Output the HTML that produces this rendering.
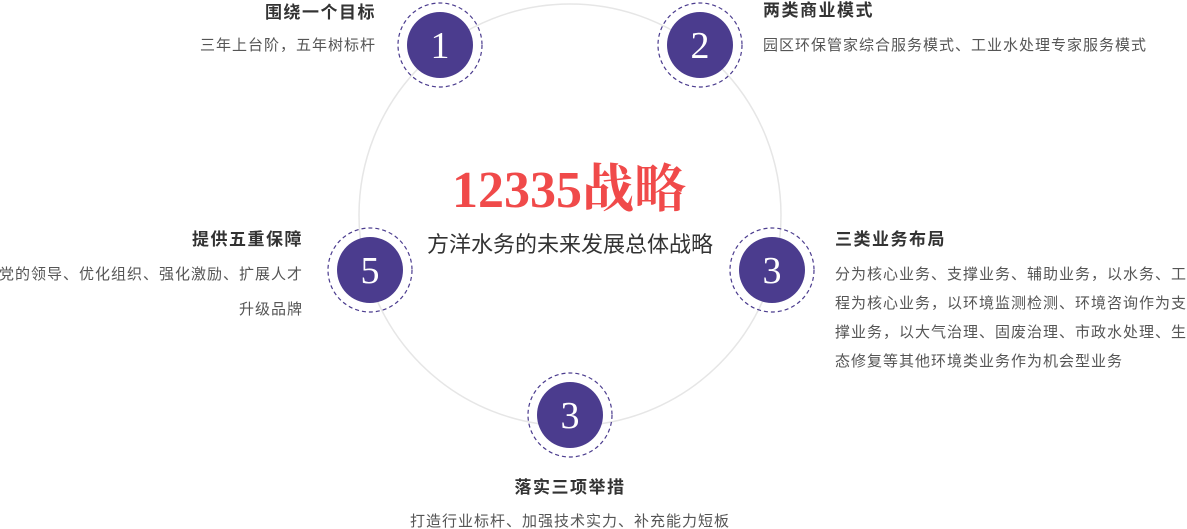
<!DOCTYPE html>
<html><head><meta charset="utf-8"><style>
html,body{margin:0;padding:0;background:#fff;}
svg{display:block}
.t{font-family:"Liberation Sans","Noto Sans CJK SC",sans-serif;}
</style></head><body>
<svg width="1187" height="529" viewBox="0 0 1187 529" xmlns="http://www.w3.org/2000/svg">
<circle cx="570" cy="215" r="211" fill="none" stroke="#e6e6e6" stroke-width="1.5"/>
<g fill="#4b3c8e">
<circle cx="440" cy="45" r="33"/><circle cx="700" cy="45" r="33"/>
<circle cx="370" cy="270" r="33"/><circle cx="772" cy="270" r="33"/>
<circle cx="570" cy="415" r="33"/>
</g>
<g fill="none" stroke="#4b3c8e" stroke-width="1.2" stroke-dasharray="4,3">
<circle cx="440" cy="45" r="42"/><circle cx="700" cy="45" r="42"/>
<circle cx="370" cy="270" r="42"/><circle cx="772" cy="270" r="42"/>
<circle cx="570" cy="415" r="42"/>
</g>
<g fill="#fff" font-family="Liberation Serif,serif" font-size="38" text-anchor="middle">
<text x="440" y="58">1</text><text x="700" y="58">2</text>
<text x="370" y="283">5</text><text x="772" y="283">3</text>
<text x="570" y="428">3</text>
</g>
<text x="569" y="207" text-anchor="middle" fill="#f04a4a" font-size="52" font-weight="bold" font-family="Liberation Serif,'Noto Serif CJK SC',serif">12335战略</text>
<text x="570" y="252" text-anchor="middle" fill="#333" font-size="22" class="t">方洋水务的未来发展总体战略</text>
<g class="t" font-size="17" font-weight="bold" fill="#333" letter-spacing="1.5">
<text x="376" y="18" text-anchor="end">围绕一个目标</text>
<text x="763" y="16">两类商业模式</text>
<text x="303" y="245" text-anchor="end">提供五重保障</text>
<text x="835" y="245">三类业务布局</text>
<text x="570" y="493" text-anchor="middle">落实三项举措</text>
</g>
<g class="t" font-size="15" fill="#555" letter-spacing="1">
<text x="376" y="50" text-anchor="end">三年上台阶，五年树标杆</text>
<text x="763" y="50">园区环保管家综合服务模式、工业水处理专家服务模式</text>
<text x="303" y="279" text-anchor="end">党的领导、优化组织、强化激励、扩展人才</text>
<text x="303" y="314" text-anchor="end">升级品牌</text>
<text x="835" y="279">分为核心业务、支撑业务、辅助业务，以水务、工</text>
<text x="835" y="308">程为核心业务，以环境监测检测、环境咨询作为支</text>
<text x="835" y="337">撑业务，以大气治理、固废治理、市政水处理、生</text>
<text x="835" y="366">态修复等其他环境类业务作为机会型业务</text>
<text x="570" y="526" text-anchor="middle">打造行业标杆、加强技术实力、补充能力短板</text>
</g>
</svg>
</body></html>
